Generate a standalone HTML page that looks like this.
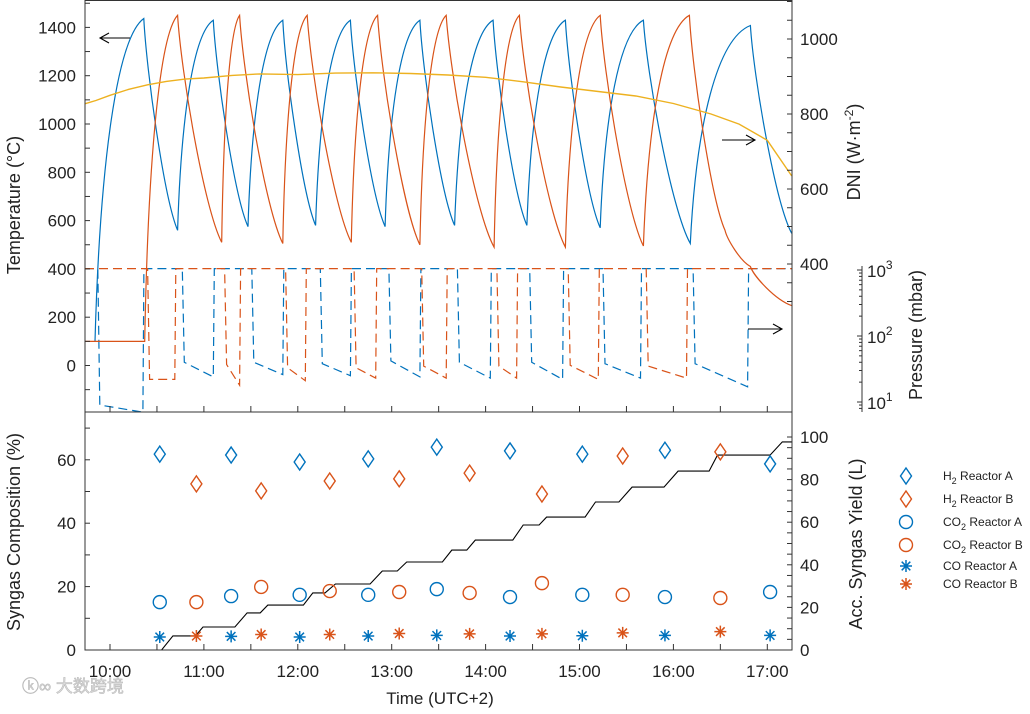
<!DOCTYPE html>
<html><head><meta charset="utf-8"><style>
html,body{margin:0;padding:0;background:#fff;}
svg{display:block;font-family:"Liberation Sans","Noto Sans CJK SC",sans-serif;}
</style></head><body>
<svg id="chart" width="1030" height="714" viewBox="0 0 1030 714" xmlns="http://www.w3.org/2000/svg">
<defs><clipPath id="clipTop"><rect x="85" y="0" width="707" height="412"/></clipPath></defs>
<g id="top-panel"></g>
<g id="bottom-panel"></g>
<g id="axes"></g>
<text x="22" y="692" font-size="17" fill="#ddd" stroke="#bbb" stroke-width="0.6">ⓚ∞ 大数跨境</text>
</svg>
<script>
// ---------- data ----------
const tempA_t = [9.84,10.36,10.72,11.10,11.47,11.84,12.19,12.56,12.93,13.30,13.67,14.08,14.44,14.85,15.22,15.68,16.18,16.82,17.26];
const tempA_v = [100,1437,560,1430,575,1430,580,1430,575,1430,580,1430,580,1430,570,1430,505,1408,547];
const tempB_t = [9.73,10.37,10.72,11.19,11.38,11.84,12.10,12.57,12.85,13.30,13.58,14.09,14.36,14.85,15.22,15.68,16.17,16.55,16.82,17.26];
const tempB_v = [100,100,1450,510,1450,505,1450,510,1450,500,1450,490,1450,490,1450,495,1450,560,410,248];
const dni_t = [9.73,9.85,10.0,10.2,10.4,10.6,10.8,11.0,11.3,11.6,12.0,12.4,12.8,13.2,13.6,14.0,14.4,14.8,15.2,15.6,16.0,16.4,16.7,17.0,17.26];
const dni_v = [827,836,850,866,878,887,893,896,903,907,905,909,910,908,904,898,886,872,860,848,828,800,773,730,635];
const pA_lowStart_t = [9.87,10.77,11.51,12.24,12.97,13.70,14.47,15.25,16.21];
const pA_lowEnd_t   = [10.35,11.10,11.84,12.56,13.30,14.05,14.82,15.65,16.79];
const pA_lowStart_v = [9,40,40,38,42,40,40,38,38];
const pA_lowEnd_v   = [7,24,26,25,24,23,22,23,17];
const pB_lowStart_t = [10.40,11.22,11.87,12.60,13.32,14.12,14.88,15.71];
const pB_lowEnd_t   = [10.69,11.38,12.08,12.83,13.58,14.33,15.20,16.14];
const pB_lowStart_v = [22,37,33,33,35,35,36,35];
const pB_lowEnd_v   = [22,18,21,23,23,23,22,23];
const pHigh = 1050;
const h2A_t = [10.53,11.29,12.02,12.75,13.48,14.26,15.03,15.91,17.03];
const h2A_v = [61.8,61.5,59.3,60.3,64.0,62.8,61.8,63.0,58.7];
const co2A_v = [15.1,17.0,17.4,17.4,19.2,16.7,17.4,16.7,18.3];
const coA_v  = [4.1,4.3,4.1,4.4,4.6,4.4,4.5,4.6,4.6];
const h2B_t = [10.92,11.61,12.34,13.08,13.83,14.60,15.46,16.50];
const h2B_v = [52.4,50.2,53.3,54.0,55.8,49.2,61.2,62.5];
const co2B_v = [15.1,19.9,18.6,18.3,18.0,21.1,17.4,16.4];
const coB_v  = [4.4,4.9,4.9,5.2,5.1,5.1,5.4,5.8];
const yield_t = [10.0,10.32,10.55,10.67,10.91,10.99,11.33,11.46,11.60,11.68,12.06,12.16,12.29,12.40,12.77,12.90,13.06,13.16,13.54,13.64,13.80,13.89,14.29,14.40,14.57,14.65,15.06,15.17,15.42,15.56,15.90,16.05,16.38,16.47,17.03,17.16,17.26];
const yield_v = [0,0,0,6.6,6.6,10.8,10.8,17.4,17.4,21.1,21.1,26.8,26.8,31.0,31.0,37.1,37.1,41.3,41.3,46.9,46.9,51.6,51.6,58.7,58.7,62.4,62.4,69.5,69.5,76.5,76.5,84.0,84.0,91.5,91.5,97.7,97.7];
const timeTicks = ["10:00","11:00","12:00","13:00","14:00","15:00","16:00","17:00"];
const tempTicks = [0,200,400,600,800,1000,1200,1400];
const dniTicks = [400,600,800,1000];
const compTicks = [0,20,40,60];
const yieldTicks = [0,20,40,60,80,100];

// ---------- scales ----------
const X0=85, X1=792;
const xS = h => 110 + (h-10)*93.9;
const yT = T => 365.5 - T*0.2415;
const yD = D => 39 + (1000-D)*0.375;
const yP = p => 270 + (3-Math.log10(p))*66;
const yC = c => 650 - c*3.17;
const yY = L => 650 - L*2.13;
const BLUE="#0072BD", ORG="#D95319", YEL="#EDB120";
const NS="http://www.w3.org/2000/svg";
function mk(tag, attrs, parent){const e=document.createElementNS(NS,tag);for(const k in attrs)e.setAttribute(k,attrs[k]);parent.appendChild(e);return e;}
const topG=document.getElementById('top-panel'), botG=document.getElementById('bottom-panel'), axG=document.getElementById('axes');

function tempPath(ts,vs){
  let d='M'+xS(ts[0]).toFixed(1)+','+yT(vs[0]).toFixed(1);
  for(let i=1;i<ts.length;i++){
    const x0=xS(ts[i-1]),y0=yT(vs[i-1]),x1=xS(ts[i]),y1=yT(vs[i]);
    const dx=x1-x0,dy=y1-y0;
    if(Math.abs(vs[i]-vs[i-1])<1){d+=' L'+x1.toFixed(1)+','+y1.toFixed(1);continue;}
    let c1,c2;
    if(dy<0){c1=[x0+0.1*dx,y0+0.55*dy];c2=[x0+0.45*dx,y1-0.06*dy];}
    else{c1=[x0+0.08*dx,y0+0.25*dy];c2=[x0+0.6*dx,y0+0.85*dy];}
    d+=' C'+c1[0].toFixed(1)+','+c1[1].toFixed(1)+' '+c2[0].toFixed(1)+','+c2[1].toFixed(1)+' '+x1.toFixed(1)+','+y1.toFixed(1);
  }
  return d;
}
function pressPath(st,et,sv,ev){
  let d='M'+X0+','+yP(pHigh);
  for(let i=0;i<st.length;i++){
    const xs=xS(st[i]),xe=xS(et[i]);
    d+=' L'+xs.toFixed(1)+','+yP(pHigh).toFixed(1)+' L'+(xs+2).toFixed(1)+','+yP(sv[i]).toFixed(1)+' L'+xe.toFixed(1)+','+yP(ev[i]).toFixed(1)+' L'+(xe+1).toFixed(1)+','+yP(pHigh).toFixed(1);
  }
  d+=' L'+X1+','+yP(pHigh);
  return d;
}
const pA=mk('path',{d:pressPath(pA_lowStart_t,pA_lowEnd_t,pA_lowStart_v,pA_lowEnd_v),fill:'none',stroke:BLUE,'stroke-width':1.2,'stroke-dasharray':'9,5','clip-path':'url(#clipTop)'},topG);


const pB=mk('path',{d:pressPath(pB_lowStart_t,pB_lowEnd_t,pB_lowStart_v,pB_lowEnd_v),fill:'none',stroke:ORG,'stroke-width':1.2,'stroke-dasharray':'9,5','clip-path':'url(#clipTop)'},topG);


const tA=mk('path',{d:tempPath(tempA_t,tempA_v),fill:'none',stroke:BLUE,'stroke-width':1.2,'clip-path':'url(#clipTop)'},topG);


const tB=mk('path',{d:tempPath(tempB_t,tempB_v),fill:'none',stroke:ORG,'stroke-width':1.2,'clip-path':'url(#clipTop)'},topG);


let dd='';dni_t.forEach((t,i)=>{dd+=(i?' L':'M')+xS(t).toFixed(1)+','+yD(dni_v[i]).toFixed(1);});
const dl=mk('path',{d:dd,fill:'none',stroke:YEL,'stroke-width':1.4,'clip-path':'url(#clipTop)'},topG);



function arrow(x1,y1,x2,y2,name){const g=mk('g',{stroke:'#000','stroke-width':1.1,fill:'none'},topG);
 
 
 mk('line',{x1,y1,x2,y2},g);const s=x2>x1?-1:1;mk('path',{d:`M${x2+s*9},${y2-5} L${x2},${y2} L${x2+s*9},${y2+5}`},g);}
arrow(130,38,100,38,'temperature-arrow');
arrow(722,140,755,140,'dni-arrow');
arrow(748,329,782,329,'pressure-arrow');

let yd='';yield_t.forEach((t,i)=>{yd+=(i?' L':'M')+xS(t).toFixed(1)+','+yY(yield_v[i]).toFixed(1);});
const yl=mk('path',{d:yd,fill:'none',stroke:'#000','stroke-width':1.1},botG);


function diamond(x,y,c,g){return mk('path',{d:`M${x},${y-8} L${x+5.5},${y} L${x},${y+8} L${x-5.5},${y} Z`,fill:'none',stroke:c,'stroke-width':1.4},g);}
function circ(x,y,c,g){return mk('circle',{cx:x,cy:y,r:6.5,fill:'none',stroke:c,'stroke-width':1.4},g);}
function star(x,y,c,g){return mk('path',{d:`M${x-6},${y} L${x+6},${y} M${x},${y-6} L${x},${y+6} M${x-4.3},${y-4.3} L${x+4.3},${y+4.3} M${x-4.3},${y+4.3} L${x+4.3},${y-4.3}`,stroke:c,'stroke-width':1.5},g);}
h2A_t.forEach((t,i)=>{
  const a=diamond(xS(t),yC(h2A_v[i]),BLUE,botG);
  
  
  const b=circ(xS(t),yC(co2A_v[i]),BLUE,botG);
  
  
  const c=star(xS(t),yC(coA_v[i]),BLUE,botG);
  
  
});
h2B_t.forEach((t,i)=>{
  const a=diamond(xS(t),yC(h2B_v[i]),ORG,botG);
  
  
  const b=circ(xS(t),yC(co2B_v[i]),ORG,botG);
  
  
  const c=star(xS(t),yC(coB_v[i]),ORG,botG);
  
  
});

const AX='#333';
mk('rect',{x:X0,y:0.5,width:X1-X0,height:411.5,fill:'none',stroke:AX,'stroke-width':1},axG);
mk('polyline',{points:`${X0},412 ${X0},650 ${X1},650 ${X1},412`,fill:'none',stroke:AX,'stroke-width':1},axG);
function txt(x,y,s,opt,name){const t=mk('text',Object.assign({x,y,'font-size':17,fill:'#222'},opt||{}),axG);t.textContent=s;
 
 
 return t;}
for(let h=9.5;h<=17.26;h+=0.5){const x=xS(h);if(x<X0)continue;
  mk('line',{x1:x,y1:412,x2:x,y2:406,stroke:AX},axG);mk('line',{x1:x,y1:650,x2:x,y2:644,stroke:AX},axG);}
timeTicks.forEach((s,i)=>txt(xS(10+i),677,s,{'text-anchor':'middle'},'time-tick-label'));
txt(440,704,'Time (UTC+2)',{'text-anchor':'middle'},'x-axis-title');
for(let T=-100;T<=1500;T+=100){const y=yT(T);if(y<0||y>412)continue;mk('line',{x1:X0,y1:y,x2:X0+5,y2:y,stroke:AX},axG);}
tempTicks.forEach(T=>txt(76,yT(T)+6,String(T),{'text-anchor':'end'},'temperature-tick-label'));
for(let D=300;D<=1100;D+=50){const y=yD(D);if(y<0||y>412)continue;mk('line',{x1:X1,y1:y,x2:X1-5,y2:y,stroke:AX},axG);}
dniTicks.forEach(D=>txt(800,yD(D)+6,String(D),{},'dni-tick-label'));
mk('line',{x1:862,y1:266,x2:862,y2:412,stroke:AX},axG);
for(let e=0;e<3;e++){for(let m=1;m<10;m++){const y=yP(m*Math.pow(10,e));if(y>412||y<266)continue;mk('line',{x1:862,y1:y,x2:862-(m==1?5:3),y2:y,stroke:AX},axG);}}
mk('line',{x1:862,y1:yP(1000),x2:857,y2:yP(1000),stroke:AX},axG);
[[3,'pressure-tick-1000'],[2,'pressure-tick-100'],[1,'pressure-tick-10']].forEach(([e,n])=>{const t=txt(867,yP(Math.pow(10,e))+7,'10',{},n);const ts=mk('tspan',{dy:-8,'font-size':12},t);ts.textContent=String(e);});
for(let c=0;c<=70;c+=10){const y=yC(c);mk('line',{x1:X0,y1:y,x2:X0+5,y2:y,stroke:AX},axG);}
compTicks.forEach(c=>txt(76,yC(c)+6,String(c),{'text-anchor':'end'},'composition-tick-label'));
for(let L=0;L<=100;L+=5){const y=yY(L);mk('line',{x1:X1,y1:y,x2:X1-5,y2:y,stroke:AX},axG);}
yieldTicks.forEach(L=>txt(800,yY(L)+6,String(L),{},'yield-tick-label'));
txt(0,0,'Temperature (°C)',{'text-anchor':'middle',transform:'translate(20,205) rotate(-90)','font-size':18},'temperature-axis-title');
const dt=txt(0,0,'DNI (W·m',{'text-anchor':'middle',transform:'translate(860,152) rotate(-90)','font-size':18},'dni-axis-title');
const sup=mk('tspan',{dy:-7,'font-size':12},dt);sup.textContent='-2';const cl=mk('tspan',{dy:7},dt);cl.textContent=')';
txt(0,0,'Pressure (mbar)',{'text-anchor':'middle',transform:'translate(922,335) rotate(-90)','font-size':18},'pressure-axis-title');
txt(0,0,'Syngas Composition (%)',{'text-anchor':'middle',transform:'translate(20,532) rotate(-90)','font-size':18},'composition-axis-title');
txt(0,0,'Acc. Syngas Yield (L)',{'text-anchor':'middle',transform:'translate(862,544) rotate(-90)','font-size':18},'yield-axis-title');
const leg=mk('g',{},axG);


const entries=[['H','2',' Reactor A','d',BLUE,476],['H','2',' Reactor B','d',ORG,499],['CO','2',' Reactor A','c',BLUE,522],['CO','2',' Reactor B','c',ORG,545],['CO','',' Reactor A','s',BLUE,566],['CO','',' Reactor B','s',ORG,584]];
entries.forEach(([a,sub,b,k,c,y])=>{
  const g=mk('g',{},leg);
  
  
  if(k=='d')diamond(906,y,c,g);else if(k=='c')circ(906,y,c,g);else star(906,y,c,g);
  const t=mk('text',{x:943,y:y+4,'font-size':12,fill:'#222'},g);
  const s1=mk('tspan',{},t);s1.textContent=a;
  if(sub){const s2=mk('tspan',{dy:4,'font-size':9},t);s2.textContent=sub;const s3=mk('tspan',{dy:-4},t);s3.textContent=b;}
  else{const s3=mk('tspan',{},t);s3.textContent=b;}
});
</script>
</body></html>
